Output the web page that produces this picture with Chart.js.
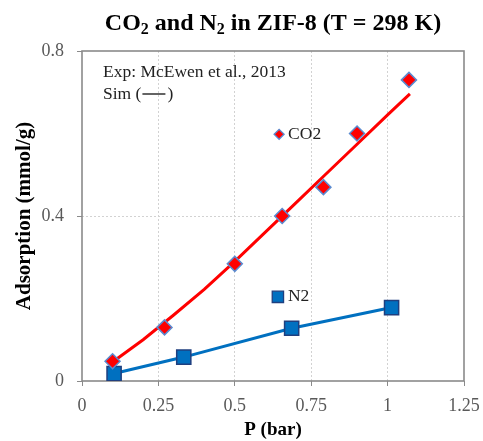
<!DOCTYPE html>
<html>
<head>
<meta charset="utf-8">
<script src="https://cdn.jsdelivr.net/npm/chart.js@4/dist/chart.umd.min.js"></script>
<style>
  html, body { margin: 0; padding: 0; background: #fff; }
  #wrap { width: 483px; height: 441px; }
</style>
</head>
<body>
<div id="wrap"><canvas id="chart" width="483" height="441"></canvas></div>
<script>
// experimental points (McEwen et al., 2013)
const co2ExpP = [0.10, 0.27, 0.50, 0.655, 0.79, 0.90, 1.07];
const co2ExpQ = [0.048, 0.130, 0.284, 0.400, 0.470, 0.600, 0.730];
const n2ExpP = [0.105, 0.333, 0.686, 1.013];
const n2ExpQ = [0.018, 0.058, 0.128, 0.178];

// simulation curves
const co2SimP = [0.10, 0.20, 0.30, 0.40, 0.50, 0.60, 0.70, 0.80, 0.90, 1.00, 1.073];
const co2SimQ = [0.046, 0.100, 0.160, 0.222, 0.290, 0.361, 0.432, 0.503, 0.574, 0.645, 0.696];
const n2SimP = [0.105, 0.333, 0.686, 1.013];
const n2SimQ = [0.018, 0.058, 0.128, 0.178];

// inline legend markers
const co2KeyP = [0.645];
const co2KeyQ = [0.598];
const n2KeyP = [0.641];
const n2KeyQ = [0.204];

const xTicks = [0, 0.25, 0.5, 0.75, 1, 1.25];
const yTicks = [0, 0.4, 0.8];

const SERIF = "'Liberation Serif', 'DejaVu Serif', serif";
const RED = "#FF0000";
const BLUE = "#0070C0";

function pts(xs, ys) {
    return xs.map((x, i) => ({ x: x, y: ys[i] }));
}

// title with subscripts, plot frame and annotation text
const decorations = {
    id: "decorations",
    beforeDatasetsDraw(chart) {
        const ctx = chart.ctx;
        const a = chart.chartArea;
        ctx.save();
        ctx.strokeStyle = "#8a8a8a";
        ctx.lineWidth = 1.6;
        ctx.strokeRect(a.left, a.top, a.right - a.left, a.bottom - a.top);
        ctx.restore();
    },
    afterDraw(chart) {
        const ctx = chart.ctx;
        const a = chart.chartArea;
        const xs = chart.scales.x, ys = chart.scales.y;
        ctx.save();

        // title
        const parts = [["CO", 0], ["2", 1], [" and N", 0], ["2", 1], [" in ZIF-8 (T = 298 K)", 0]];
        const big = "bold 24px " + SERIF, small = "bold 16px " + SERIF;
        let total = 0;
        parts.forEach(p => { ctx.font = p[1] ? small : big; total += ctx.measureText(p[0]).width; });
        let tx = (a.left + a.right) / 2 - total / 2;
        ctx.fillStyle = "#000";
        ctx.textBaseline = "alphabetic";
        parts.forEach(p => {
            ctx.font = p[1] ? small : big;
            ctx.fillText(p[0], tx, p[1] ? 34 : 30);
            tx += ctx.measureText(p[0]).width;
        });

        // annotation
        ctx.font = "17.5px " + SERIF;
        ctx.fillStyle = "#222";
        ctx.textBaseline = "middle";
        ctx.fillText("Exp: McEwen et al., 2013", a.left + 21, 72);
        const s1 = "Sim (";
        ctx.fillText(s1, a.left + 21, 94);
        const w1 = ctx.measureText(s1).width;
        ctx.strokeStyle = "#222";
        ctx.lineWidth = 1.4;
        ctx.beginPath();
        ctx.moveTo(a.left + 21 + w1 + 1, 94);
        ctx.lineTo(a.left + 21 + w1 + 24, 94);
        ctx.stroke();
        ctx.fillText(")", a.left + 21 + w1 + 26, 94);

        // inline legend labels
        ctx.fillText("CO2", xs.getPixelForValue(co2KeyP[0]) + 9, ys.getPixelForValue(co2KeyQ[0]));
        ctx.fillText("N2", xs.getPixelForValue(n2KeyP[0]) + 10, ys.getPixelForValue(n2KeyQ[0]));
        ctx.restore();
    }
};

const gridColor = ctx => (ctx.index === 0 || ctx.index === ctx.scale.ticks.length - 1) ? "rgba(0,0,0,0)" : "#d2d2d2";

new Chart(document.getElementById("chart"), {
    type: "scatter",
    plugins: [decorations],
    data: {
        datasets: [
            {
                label: "N2 sim",
                data: pts(n2SimP, n2SimQ),
                showLine: true,
                borderColor: BLUE,
                borderWidth: 3,
                pointRadius: 0,
                order: 4
            },
            {
                label: "CO2 sim",
                data: pts(co2SimP, co2SimQ),
                showLine: true,
                borderColor: RED,
                borderWidth: 3,
                pointRadius: 0,
                order: 3
            },
            {
                label: "N2",
                data: pts(n2ExpP, n2ExpQ),
                pointStyle: "rect",
                pointRadius: 10,
                backgroundColor: BLUE,
                borderColor: "#1F3F7F",
                borderWidth: 1.5,
                order: 2
            },
            {
                label: "CO2",
                data: pts(co2ExpP, co2ExpQ),
                pointStyle: "rectRot",
                pointRadius: 7.5,
                backgroundColor: RED,
                borderColor: "#5B8BD0",
                borderWidth: 1.5,
                order: 1
            },
            {
                label: "CO2 key",
                data: pts(co2KeyP, co2KeyQ),
                pointStyle: "rectRot",
                pointRadius: 5,
                backgroundColor: RED,
                borderColor: "#5B8BD0",
                borderWidth: 1.3,
                order: 0
            },
            {
                label: "N2 key",
                data: pts(n2KeyP, n2KeyQ),
                pointStyle: "rect",
                pointRadius: 8,
                backgroundColor: BLUE,
                borderColor: "#1F3F7F",
                borderWidth: 1.3,
                order: 0
            }
        ]
    },
    options: {
        responsive: false,
        animation: false,
        layout: { padding: { top: 51, right: 19, left: 0, bottom: 0 } },
        plugins: {
            legend: { display: false },
            tooltip: { enabled: false },
            title: { display: false }
        },
        scales: {
            x: {
                type: "linear",
                min: 0,
                max: 1.25,
                afterBuildTicks: s => { s.ticks = xTicks.map(v => ({ value: v })); },
                afterFit: s => { s.height = 60; s.paddingLeft = 0; s.paddingRight = 0; },
                border: { display: false, dash: [2, 2] },
                grid: { color: gridColor, tickColor: "#8a8a8a", tickLength: 5, lineWidth: 1 },
                ticks: { color: "#595959", padding: 9, font: { family: SERIF, size: 18 }, callback: v => String(v) },
                title: { display: true, text: "P (bar)", color: "#000", padding: { top: 0, bottom: 0 }, font: { family: SERIF, size: 19, weight: "bold" } }
            },
            y: {
                type: "linear",
                min: 0,
                max: 0.8,
                afterBuildTicks: s => { s.ticks = yTicks.map(v => ({ value: v })); },
                afterFit: s => { s.width = 82; s.paddingTop = 0; s.paddingBottom = 0; },
                border: { display: false, dash: [2, 2] },
                grid: { color: gridColor, tickColor: "#8a8a8a", tickLength: 5, lineWidth: 1 },
                ticks: { color: "#595959", padding: 13, font: { family: SERIF, size: 18 }, callback: v => String(v) },
                title: { display: true, text: "Adsorption (mmol/g)", color: "#000", padding: { top: 12, bottom: 0 }, font: { family: SERIF, size: 21, weight: "bold" } }
            }
        }
    }
});
</script>
</body>
</html>
